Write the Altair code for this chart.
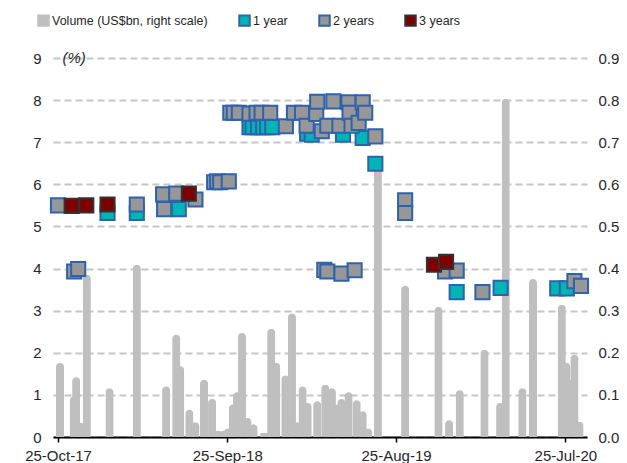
import altair as alt
import pandas as pd

START = pd.Timestamp("2017-10-25")
FONT = "Liberation Sans, Arial, sans-serif"

SERIES = ["Volume (US$bn, right scale)", "1 year", "2 years", "3 years"]
FILLS = ["#BFBFBF", "#00B6B4", "#979797", "#7F0000"]
STROKES = ["#BFBFBF", "#2E62AE", "#2E62AE", "#333333"]

# volume bars: days since 25-Oct-17, US$bn
bar_day = [4, 31, 36, 45, 57, 102, 156, 214, 234, 242, 260, 272, 289, 305, 317,
           329, 336, 346, 354, 364, 375, 387, 408, 422, 432, 450, 463, 474, 484, 494,
           513, 529, 542, 554, 561, 575, 591, 603, 614, 633, 687, 753, 774, 795, 844,
           875, 886, 919, 940, 997, 1006, 1013, 1022, 1032]
bar_vol = [0.176, 0.096, 0.142, 0.034, 0.385, 0.116, 0.409, 0.12, 0.243, 0.168,
           0.065, 0.035, 0.136, 0.09, 0.015, 0.015, 0.02, 0.077, 0.106, 0.247,
           0.045, 0.03, 0.01, 0.257, 0.176, 0.146, 0.293, 0.035, 0.12, 0.081,
           0.085, 0.124, 0.116, 0.077, 0.09, 0.106, 0.087, 0.061, 0.02, 0.64,
           0.359, 0.309, 0.04, 0.111, 0.207, 0.081, 0.803, 0.116, 0.375, 0.314,
           0.176, 0.136, 0.195, 0.036]

# yields (%) by tenor
y1_day = [98, 156, 239, 379, 385, 396, 406, 414, 424, 493, 502, 564, 603, 628, 789, 876, 988, 1007]
y1_val = [5.32, 5.32, 5.41, 7.36, 7.36, 7.36, 7.36, 7.36, 7.36, 7.2, 7.18, 7.18, 7.1, 6.49,
          3.44, 3.54, 3.53, 3.53]

y2_day = [0, 32, 40, 156, 208, 210, 234, 272, 309, 315, 321, 338, 341, 348, 358, 379, 393,
          403, 420, 451, 467, 483, 492, 511, 513, 522, 533, 545, 557, 575, 577, 581, 595,
          603, 608, 628, 527, 533, 561, 587, 687, 687, 766, 789, 840, 1022, 1035]
y2_val = [5.5, 3.93, 3.99, 5.52, 5.76, 5.41, 5.78, 5.64, 6.05, 6.07, 6.05, 6.07, 7.7, 7.7,
          7.7, 7.68, 7.7, 7.7, 7.7, 7.38, 7.7, 7.7, 7.39, 7.67, 7.96, 7.26, 7.39, 7.97,
          7.39, 7.95, 7.7, 7.39, 7.46, 7.95, 7.7, 7.14, 3.97, 3.93, 3.88, 3.96, 5.62, 5.32,
          3.93, 3.95, 3.44, 3.7, 3.59]

y3_day = [27, 56, 98, 259, 744, 768]
y3_val = [5.49, 5.5, 5.52, 5.78, 4.09, 4.16]

tick_dates = [alt.DateTime(year=2017, month=10, date=25), alt.DateTime(year=2018, month=9, date=25),
              alt.DateTime(year=2019, month=8, date=25), alt.DateTime(year=2020, month=7, date=25)]
x_domain = [alt.DateTime(year=2017, month=10, date=25), alt.DateTime(year=2020, month=8, date=27)]


def days(d):
    return START + pd.to_timedelta(d, unit="D")


bars_df = pd.DataFrame({"date": days(bar_day), "vol": bar_vol, "series": SERIES[0]})
pts_df = pd.concat([
    pd.DataFrame({"date": days(y1_day), "val": y1_val, "series": SERIES[1]}),
    pd.DataFrame({"date": days(y2_day), "val": y2_val, "series": SERIES[2]}),
    pd.DataFrame({"date": days(y3_day), "val": y3_val, "series": SERIES[3]}),
], ignore_index=True)
note_df = pd.DataFrame({"date": days([32]), "val": [9.0], "label": ["(%)"]})

xenc = alt.X("date:T", scale=alt.Scale(domain=x_domain),
             axis=alt.Axis(values=tick_dates, format="%d-%b-%y", title=None, grid=False,
                           domainColor="black", domainWidth=2, tickColor="black",
                           tickWidth=1.5, tickSize=5, labelPadding=6))

legend = alt.Legend(title=None, orient="none", legendX=-16, legendY=-44,
                    direction="horizontal", columns=4, columnPadding=27,
                    symbolType="square", symbolSize=110, symbolStrokeWidth=2,
                    labelFontSize=12.5, labelOffset=2, labelFont=FONT, labelLimit=0,
                    labelColor="#262626")
fill_enc = alt.Fill("series:N", scale=alt.Scale(domain=SERIES, range=FILLS), legend=legend)
stroke_enc = alt.Stroke("series:N", scale=alt.Scale(domain=SERIES, range=STROKES), legend=legend)

bars = alt.Chart(bars_df).mark_bar(size=8, cornerRadiusEnd=4).encode(
    x=xenc,
    y=alt.Y("vol:Q", scale=alt.Scale(domain=[0, 0.9], nice=False, zero=True),
            axis=alt.Axis(orient="right", values=[i / 10 for i in range(10)], format=".1f",
                          grid=False, domain=False, ticks=False, labelPadding=11, title=None)),
    fill=fill_enc,
    stroke=stroke_enc,
)

points = alt.Chart(pts_df).mark_point(shape="square", filled=True, size=200, strokeWidth=2,
                                      opacity=1).encode(
    x=xenc,
    y=alt.Y("val:Q", scale=alt.Scale(domain=[0, 9], nice=False),
            axis=alt.Axis(values=list(range(10)), grid=True, gridDash=[7, 4],
                          gridColor="#C6C6C6", gridWidth=2, domain=False, ticks=False,
                          labelPadding=12, title=None)),
    fill=fill_enc,
    stroke=stroke_enc,
)

note = alt.Chart(note_df).mark_text(font=FONT, fontSize=15, fontStyle="italic",
                                    color="#262626", baseline="middle", align="center").encode(
    x=xenc,
    y=alt.Y("val:Q", scale=alt.Scale(domain=[0, 9], nice=False), axis=None),
    text="label:N",
)

chart = alt.layer(bars, points, note).resolve_scale(y="independent").properties(
    width=534, height=379,
    autosize=alt.AutoSizeParams(type="none"),
    padding={"left": 45, "top": 50, "right": 32, "bottom": 26},
).configure_view(stroke=None).configure_axis(
    labelFont=FONT, labelFontSize=15, labelColor="#262626"
)

chart.save("out.html", embed_options={"renderer": "svg", "actions": False})
